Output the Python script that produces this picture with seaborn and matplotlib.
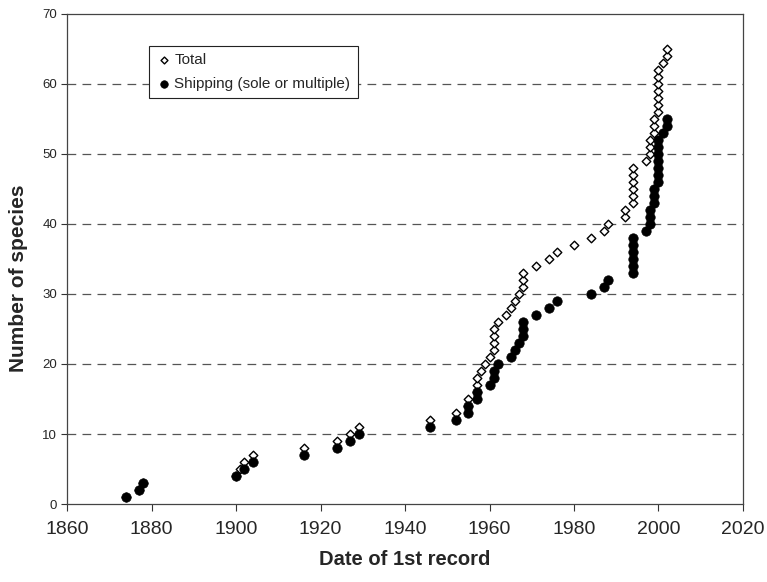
"""
Cumulative number of recorded species by date of first record,
all species vs. those attributed to shipping.
"""

import pandas as pd
import matplotlib.pyplot as plt
import seaborn as sns

# year of first record for every species, and its running count
total_years = [1874, 1877, 1878, 1900, 1901, 1902, 1904, 1916, 1924, 1927,
               1929, 1946, 1952, 1955, 1955, 1957, 1957, 1957, 1958, 1959,
               1960, 1961, 1961, 1961, 1961, 1962, 1964, 1965, 1966, 1967,
               1968, 1968, 1968, 1971, 1974, 1976, 1980, 1984, 1987, 1988,
               1992, 1992, 1994, 1994, 1994, 1994, 1994, 1994, 1997, 1998,
               1998, 1998, 1999, 1999, 1999, 2000, 2000, 2000, 2000, 2000,
               2000, 2000, 2001, 2002, 2002]
total_counts = [1, 2, 3, 4, 5, 6, 7, 8, 9, 10,
                11, 12, 13, 14, 15, 16, 17, 18, 19, 20,
                21, 22, 23, 24, 25, 26, 27, 28, 29, 30,
                31, 32, 33, 34, 35, 36, 37, 38, 39, 40,
                41, 42, 43, 44, 45, 46, 47, 48, 49, 50,
                51, 52, 53, 54, 55, 56, 57, 58, 59, 60,
                61, 62, 63, 64, 65]

shipping_years = [1874, 1877, 1878, 1900, 1902, 1904, 1916, 1924, 1927, 1929,
                  1946, 1952, 1955, 1955, 1957, 1957, 1960, 1961, 1961, 1962,
                  1965, 1966, 1967, 1968, 1968, 1968, 1971, 1974, 1976, 1984,
                  1987, 1988, 1994, 1994, 1994, 1994, 1994, 1994, 1997, 1998,
                  1998, 1998, 1999, 1999, 1999, 2000, 2000, 2000, 2000, 2000,
                  2000, 2000, 2001, 2002, 2002]
shipping_counts = [1, 2, 3, 4, 5, 6, 7, 8, 9, 10,
                   11, 12, 13, 14, 15, 16, 17, 18, 19, 20,
                   21, 22, 23, 24, 25, 26, 27, 28, 29, 30,
                   31, 32, 33, 34, 35, 36, 37, 38, 39, 40,
                   41, 42, 43, 44, 45, 46, 47, 48, 49, 50,
                   51, 52, 53, 54, 55]

x_ticks = [1860, 1880, 1900, 1920, 1940, 1960, 1980, 2000, 2020]
y_ticks = [0, 10, 20, 30, 40, 50, 60, 70]


def main():
    sns.set_style("ticks")
    plt.rcParams['font.family'] = ['Liberation Sans', 'DejaVu Sans']

    total = pd.DataFrame({"year": total_years, "count": total_counts})
    shipping = pd.DataFrame({"year": shipping_years, "count": shipping_counts})

    fig = plt.figure(figsize=(7.67, 5.82), dpi=100)
    ax = fig.add_axes([0.0874, 0.134, 0.8813, 0.842])

    # dashed horizontal grid (not on the frame lines)
    for y in y_ticks[1:-1]:
        ax.axhline(y, color="#555555", lw=0.9, ls=(0, (7, 5)), zorder=0)

    sns.scatterplot(data=total, x="year", y="count", ax=ax, marker="D",
                    s=19, facecolor="white", edgecolor="black", linewidth=1.0,
                    label="Total", zorder=2)
    sns.scatterplot(data=shipping, x="year", y="count", ax=ax, marker="o",
                    s=46, color="black", edgecolor="black", linewidth=0.5,
                    label="Shipping (sole or multiple)", zorder=3)

    ax.set_xlim(1860, 2020)
    ax.set_ylim(0, 70)
    ax.set_xticks(x_ticks)
    ax.set_yticks(y_ticks)
    ax.tick_params(axis="x", labelsize=14, length=5, width=0.8,
                   direction="out", color="#333333", pad=7)
    ax.tick_params(axis="y", labelsize=9.5, length=4, width=0.8,
                   direction="out", color="#333333", pad=3)
    for sp in ax.spines.values():
        sp.set_visible(True)
        sp.set_color("#444444")
        sp.set_linewidth(0.9)

    ax.set_xlabel("Date of 1st record", fontsize=14.5, fontweight="bold",
                  labelpad=9)
    ax.set_ylabel("Number of species", fontsize=15, fontweight="bold")
    ax.yaxis.set_label_coords(-0.058, 0.46)

    leg = ax.legend(loc="upper left", bbox_to_anchor=(0.121, 0.934),
                    borderaxespad=0, fancybox=False, framealpha=1,
                    edgecolor="#222222", fontsize=11, handletextpad=0.2,
                    handlelength=1.0, borderpad=0.47, labelspacing=0.62,
                    markerscale=0.8)
    leg.get_frame().set_linewidth(0.8)

    fig.savefig("out.png", dpi=100)


if __name__ == "__main__":
    main()
